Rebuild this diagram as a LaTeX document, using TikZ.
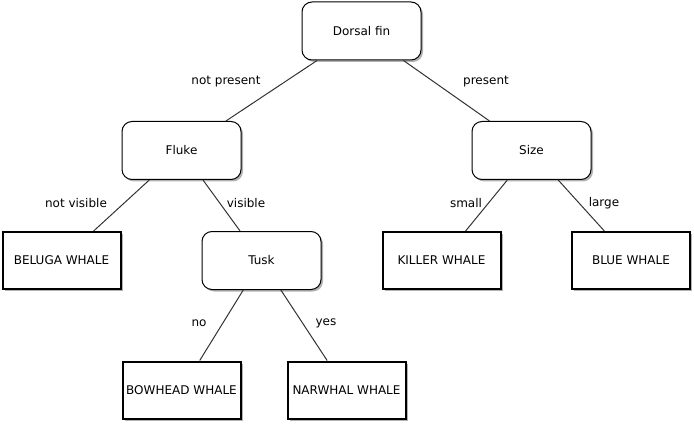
\documentclass[tikz,border=0pt]{standalone}
\usepackage{fontspec}
\setmainfont{DejaVu Sans}
\usetikzlibrary{shadows}
\begin{document}
\begin{tikzpicture}[x=1pt,y=-1pt,
  font=\fontsize{12}{14}\selectfont,
  decision/.style={draw=black, line width=1pt, rounded corners=10pt, fill=white,
    minimum width=119pt, minimum height=58pt, inner sep=0pt,
    drop shadow={shadow xshift=2pt, shadow yshift=-2pt, fill=black, opacity=0.3}},
  leaf/.style={draw=black, line width=2pt, fill=white,
    minimum width=118pt, minimum height=57pt, inner sep=0pt,
    drop shadow={shadow xshift=2pt, shadow yshift=-2pt, fill=black, opacity=0.3}},
  edge/.style={draw=black!80, line width=1pt},
  lbl/.style={inner sep=0pt}]
\useasboundingbox (0,0) rectangle (694,425);
\node[decision] (dorsal) at (361.5,31) {Dorsal fin};
\node[decision] (fluke) at (181.5,150.5) {Fluke};
\node[decision] (size) at (531.5,150.5) {Size};
\node[leaf] (beluga) at (61.5,260.5) {BELUGA WHALE};
\node[decision] (tusk) at (261.5,260.5) {Tusk};
\node[leaf] (killer) at (441.5,260.5) {KILLER WHALE};
\node[leaf] (blue) at (631,260.5) {BLUE WHALE};
\node[leaf] (bowhead) at (181.5,390) {BOWHEAD WHALE};
\node[leaf] (narwhal) at (346.5,390) {NARWHAL WHALE};
\draw[edge] (dorsal) -- (fluke);
\draw[edge] (dorsal) -- (size);
\draw[edge] (fluke) -- (beluga);
\draw[edge] (fluke) -- (tusk);
\draw[edge] (size) -- (killer);
\draw[edge] (size) -- (blue);
\draw[edge] (tusk) -- (bowhead);
\draw[edge] (tusk) -- (narwhal);
\node[lbl] (l1) at (226,82) {not present};
\node[lbl] (l2) at (486,82) {present};
\node[lbl] (l3) at (76,203) {not visible};
\node[lbl] (l4) at (246,203) {visible};
\node[lbl] (l5) at (466,203) {small};
\node[lbl] (l6) at (604,203) {large};
\node[lbl] (l7) at (199,323) {no};
\node[lbl] (l8) at (326,323) {yes};
\end{tikzpicture}
\end{document}
